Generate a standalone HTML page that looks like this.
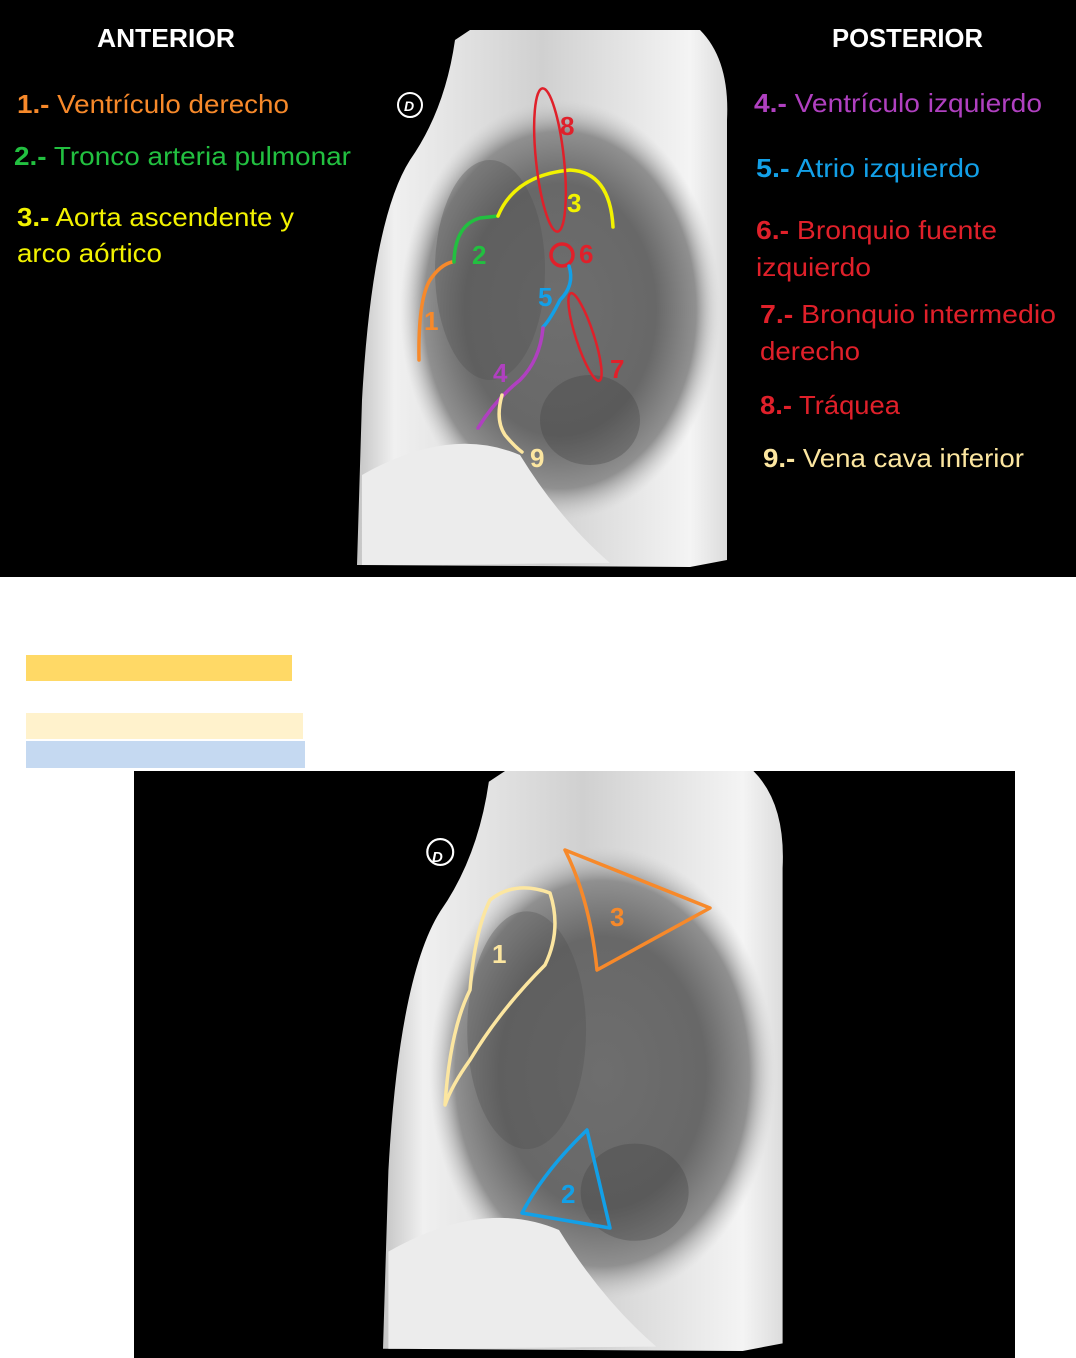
<!DOCTYPE html>
<html><head><meta charset="utf-8"><style>
body{margin:0;background:#fff;width:1076px;height:1358px;overflow:hidden;}
svg{display:block}
text{font-family:"Liberation Sans",sans-serif;}
</style></head><body>
<svg width="1076" height="1358" viewBox="0 0 1076 1358">
<defs>
<radialGradient id="lung" cx="0.5" cy="0.5" r="0.5">
<stop offset="0" stop-color="#6e6e6e"/><stop offset="0.6" stop-color="#686868"/><stop offset="0.85" stop-color="#909090"/><stop offset="1" stop-color="#c8c8c8" stop-opacity="0"/>
</radialGradient>
<linearGradient id="body" x1="0" x2="1" y1="0" y2="0">
<stop offset="0" stop-color="#c4c4c4"/><stop offset="0.1" stop-color="#f0f0f0"/><stop offset="0.5" stop-color="#d0d0d0"/><stop offset="0.9" stop-color="#f4f4f4"/><stop offset="1" stop-color="#dcdcdc"/>
</linearGradient>
<g id="xr">
<path d="M357,565 L362,400 Q372,220 410,160 Q445,110 455,40 L470,30 L700,30 Q730,60 727,120 L727,560 L690,567 Z" fill="url(#body)"/>
<ellipse cx="560" cy="310" rx="160" ry="210" fill="url(#lung)"/>
<ellipse cx="490" cy="270" rx="55" ry="110" fill="#505050" opacity="0.35"/>
<ellipse cx="590" cy="420" rx="50" ry="45" fill="#3a3a3a" opacity="0.3"/>
<path d="M362,475 Q450,425 520,455 Q560,520 610,563 L362,565 Z" fill="#ececec"/>
<circle cx="410" cy="105" r="12" fill="none" stroke="#fff" stroke-width="2"/>
</g>
</defs>
<rect x="0" y="0" width="1076" height="577" fill="#000"/>
<use href="#xr"/>
<text x="404" y="111" font-size="14" font-style="italic" font-weight="bold" fill="#fff">D</text>
<g fill="none" stroke-width="3.5" stroke-linecap="round">
<path d="M419,360 Q418,300 430,280 Q440,265 452,262" stroke="#f7892a"/>
<path d="M454,262 Q455,225 480,218 L498,216" stroke="#22c040"/>
<path d="M498,216 Q515,175 570,170 Q610,172 613,227" stroke="#f2f200"/>
<ellipse cx="550" cy="160" rx="14" ry="72" transform="rotate(-6 550 160)" stroke="#e0202a" stroke-width="2.5"/>
<circle cx="562" cy="255" r="11" stroke="#e0202a"/>
<path d="M569,266 Q575,285 560,300 Q550,320 543,327" stroke="#12a0e8"/>
<path d="M543,328 Q540,360 520,380 Q495,400 478,428" stroke="#b040c0"/>
<ellipse cx="585" cy="337" rx="9" ry="46" transform="rotate(-18 585 337)" stroke="#e0202a" stroke-width="2.5"/>
<path d="M502,395 Q495,420 505,435 Q515,447 522,452" stroke="#fce6a0"/>
</g>
<g font-size="26" font-weight="bold">
<text x="424" y="330" fill="#f7892a">1</text>
<text x="472" y="264" fill="#22c040">2</text>
<text x="567" y="212" fill="#f2f200">3</text>
<text x="493" y="382" fill="#b040c0">4</text>
<text x="538" y="306" fill="#12a0e8">5</text>
<text x="579" y="263" fill="#e0202a">6</text>
<text x="610" y="378" fill="#e0202a">7</text>
<text x="560" y="135" fill="#e0202a">8</text>
<text x="530" y="467" fill="#fce6a0">9</text>
</g>
<g font-size="26" lengthAdjust="spacingAndGlyphs">
<text x="97" y="47" fill="#fff" font-weight="bold" textLength="138" lengthAdjust="spacingAndGlyphs">ANTERIOR</text>
<text x="832" y="47" fill="#fff" font-weight="bold" textLength="151" lengthAdjust="spacingAndGlyphs">POSTERIOR</text>
<text x="17" y="113" fill="#f7892a" textLength="272" lengthAdjust="spacingAndGlyphs"><tspan font-weight="bold">1.-</tspan> Ventrículo derecho</text>
<text x="14" y="165" fill="#22c040" textLength="337" lengthAdjust="spacingAndGlyphs"><tspan font-weight="bold">2.-</tspan> Tronco arteria pulmonar</text>
<text x="17" y="226" fill="#f2f200" textLength="277" lengthAdjust="spacingAndGlyphs"><tspan font-weight="bold">3.-</tspan> Aorta ascendente y</text>
<text x="17" y="262" fill="#f2f200" textLength="145" lengthAdjust="spacingAndGlyphs">arco aórtico</text>
<text x="754" y="112" fill="#b040c0" textLength="288" lengthAdjust="spacingAndGlyphs"><tspan font-weight="bold">4.-</tspan> Ventrículo izquierdo</text>
<text x="756" y="177" fill="#12a0e8" textLength="224" lengthAdjust="spacingAndGlyphs"><tspan font-weight="bold">5.-</tspan> Atrio izquierdo</text>
<text x="756" y="239" fill="#e0202a" textLength="241" lengthAdjust="spacingAndGlyphs"><tspan font-weight="bold">6.-</tspan> Bronquio fuente</text>
<text x="756" y="276" fill="#e0202a" textLength="115" lengthAdjust="spacingAndGlyphs">izquierdo</text>
<text x="760" y="323" fill="#e0202a" textLength="296" lengthAdjust="spacingAndGlyphs"><tspan font-weight="bold">7.-</tspan> Bronquio intermedio</text>
<text x="760" y="360" fill="#e0202a" textLength="100" lengthAdjust="spacingAndGlyphs">derecho</text>
<text x="760" y="414" fill="#e0202a" textLength="140" lengthAdjust="spacingAndGlyphs"><tspan font-weight="bold">8.-</tspan> Tráquea</text>
<text x="763" y="467" fill="#fce6a0" textLength="261" lengthAdjust="spacingAndGlyphs"><tspan font-weight="bold">9.-</tspan> Vena cava inferior</text>
</g>
<rect x="26" y="655" width="266" height="26" fill="#FFD966"/>
<rect x="26" y="713" width="277" height="26" fill="#FFF2CC"/>
<rect x="26" y="741" width="279" height="27" fill="#C5D9F1"/>
<rect x="134" y="771" width="881" height="587" fill="#000"/>
<use href="#xr" transform="translate(383 771) scale(1.08) translate(-357 -30)"/>
<text x="432" y="862" font-size="15" font-style="italic" font-weight="bold" fill="#fff">D</text>
<g fill="none" stroke-width="3.5" stroke-linejoin="round">
<path d="M445,1105 Q450,1030 470,990 Q475,930 490,900 Q515,880 550,893 Q562,930 545,965 Q500,1010 470,1060 Q452,1085 445,1105 Z" stroke="#fce6a0"/>
<path d="M565,850 L710,908 L597,970 Q590,900 565,850 Z" stroke="#f7892a"/>
<path d="M587,1130 L610,1228 L522,1213 Q545,1170 587,1130 Z" stroke="#12a0e8"/>
</g>
<g font-size="26" font-weight="bold">
<text x="492" y="963" fill="#fce6a0">1</text>
<text x="610" y="926" fill="#f7892a">3</text>
<text x="561" y="1203" fill="#12a0e8">2</text>
</g>
</svg>
</body></html>
